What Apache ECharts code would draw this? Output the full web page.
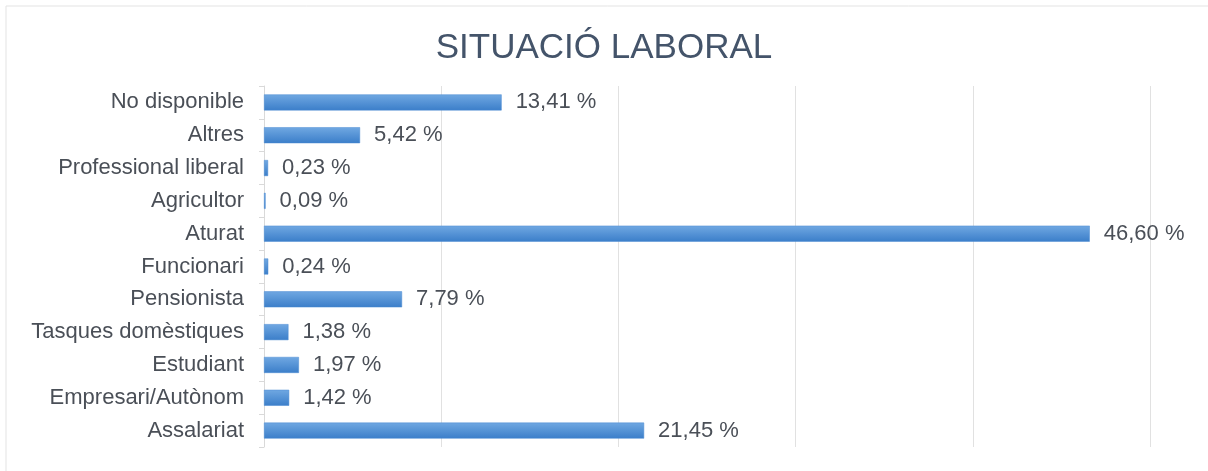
<!DOCTYPE html>
<html>
<head>
<meta charset="utf-8">
<script src="https://cdn.jsdelivr.net/npm/echarts@6/dist/echarts.min.js"></script>
<style>
html,body{margin:0;padding:0;background:#fff;}
#chart{width:1208px;height:471px;}
</style>
</head>
<body>
<div id="chart"></div>
<script>
const titleText = 'SITUACIÓ LABORAL';
const categories = ['Assalariat','Empresari/Autònom','Estudiant','Tasques domèstiques','Pensionista','Funcionari','Aturat','Agricultor','Professional liberal','Altres','No disponible'];
const values = [21.45, 1.42, 1.97, 1.38, 7.79, 0.24, 46.60, 0.09, 0.23, 5.42, 13.41];
const xTicks = [0, 10, 20, 30, 40, 50];

const chart = echarts.init(document.getElementById('chart'));
const fontFamily = '"Liberation Sans", Arial, sans-serif';
chart.setOption({
  animation: false,
  backgroundColor: '#fff',
  textStyle: { fontFamily: fontFamily },
  title: {
    text: titleText,
    left: 'center',
    top: 26,
    textStyle: { fontSize: 35, fontWeight: 'normal', color: '#44546A', fontFamily: fontFamily }
  },
  graphic: [{
    type: 'rect',
    shape: { x: 6, y: 6, width: 1210, height: 480 },
    style: { fill: 'none', stroke: '#e3e3e3', lineWidth: 1 },
    silent: true
  }],
  grid: { left: 264, right: 58, top: 86, bottom: 24 },
  xAxis: {
    type: 'value',
    min: xTicks[0],
    max: xTicks[xTicks.length - 1],
    interval: xTicks[1] - xTicks[0],
    axisLabel: { show: false },
    axisLine: { show: false },
    axisTick: { show: false },
    splitLine: { show: true, lineStyle: { color: '#e1e1e1', width: 1 } }
  },
  yAxis: {
    type: 'category',
    data: categories,
    axisLine: { show: true, lineStyle: { color: '#d9d9d9' } },
    axisTick: { show: true, length: 5, lineStyle: { color: '#d9d9d9' } },
    axisLabel: { color: '#4a4f57', fontSize: 22, margin: 20, fontFamily: fontFamily }
  },
  series: [{
    type: 'bar',
    data: values,
    barWidth: 16,
    itemStyle: {
      color: new echarts.graphic.LinearGradient(0, 0, 0, 1, [
        { offset: 0, color: '#70a8e2' },
        { offset: 1, color: '#3b7ec9' }
      ]),
      borderColor: '#4a8ad2',
      borderWidth: 0.5
    },
    label: {
      show: true,
      position: 'right',
      distance: 14,
      color: '#4a4f57',
      fontSize: 22,
      fontFamily: fontFamily,
      formatter: p => p.value.toFixed(2).replace('.', ',') + ' %'
    }
  }]
});
</script>
</body>
</html>
